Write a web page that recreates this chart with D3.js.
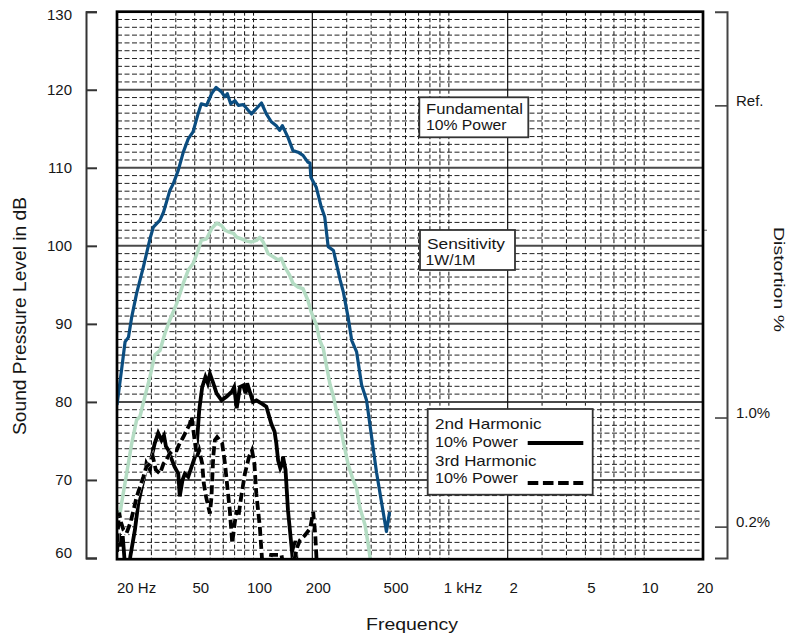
<!DOCTYPE html>
<html><head><meta charset="utf-8">
<script src="https://cdn.jsdelivr.net/npm/d3@7"></script>
<style>
body{margin:0;background:#fff}
text{font-family:"Liberation Sans",Arial,Helvetica,sans-serif;fill:#161616}
</style>
</head><body>
<svg id="chart" width="792" height="636"></svg>
<script>
// ---------- data ----------
const fundamental = [[20,79.6],[21.1,84.1],[22.0,87.7],[22.9,88.3],[23.8,90.9],[25.2,93.9],[27.3,97.3],[29.5,100.9],[30.7,102.4],[33.2,103.3],[34.6,104.3],[37.3,107.1],[38.9,108.0],[41.2,109.7],[43.7,112.0],[46.3,113.7],[49.0,114.6],[52.0,116.9],[54.0,118.2],[57.5,118.0],[61.0,119.5],[64.3,120.3],[68.6,119.7],[71.4,119.1],[73.4,119.5],[76.4,118.2],[80.3,118.6],[83.6,118.0],[88.6,118.1],[92.2,117.6],[97.6,116.9],[103.5,117.6],[109.8,118.3],[116.3,116.9],[123.3,115.9],[130.8,115.4],[136.0,114.8],[140.5,115.4],[150.1,113.9],[159.2,112.2],[169.0,112.0],[179.2,111.6],[190.0,110.7],[194.5,110.6],[196.5,108.8],[209.5,107.5],[222.1,105.0],[231.5,103.7],[241.0,99.9],[256.5,99.4],[277.7,95.6],[288.2,94.1],[305.6,90.7],[318.0,87.9],[337.1,86.4],[357.4,82.2],[379.0,80.2],[401.8,75.6],[426.1,71.0],[451.7,67.2],[479.0,63.4],[497.2,65.9]];

const sensitivity = [[20,62.9],[21.1,67.0],[22.4,70.8],[23.8,74.7],[25.2,77.7],[26.2,78.1],[27.8,80.7],[29.5,83.2],[31.2,86.0],[33.2,86.6],[35.2,88.8],[37.3,90.5],[40.4,92.6],[43.7,95.2],[46.3,96.9],[49.0,97.7],[52.0,99.4],[54.0,100.7],[57.5,100.9],[61.0,102.2],[64.7,102.9],[68.6,102.6],[71.4,102.0],[74.3,101.8],[78.9,101.6],[82.0,101.1],[86.9,100.9],[92.2,100.6],[97.6,100.5],[103.5,100.7],[107.7,101.1],[112.0,100.5],[118.7,99.0],[126.0,98.6],[133.6,98.2],[138.8,98.4],[144.4,97.3],[153.2,96.2],[159.2,95.2],[169.0,94.7],[179.2,94.5],[190.0,93.0],[197.5,91.5],[209.5,89.9],[218.3,87.9],[227.7,86.8],[236.8,84.5],[246.5,82.2],[256.5,80.7],[266.6,78.7],[277.7,77.2],[288.2,74.9],[305.6,71.9],[323.7,70.0],[337.1,68.9],[350.7,66.4],[372.6,64.2],[387.5,61.5],[398.0,59.5]];

const harmonic2nd = [[20,60.8],[20.4,63.2],[20.9,61.5],[21.4,62.8],[21.9,59.5],[23.0,58.5],[23.4,60.2],[24.7,63.6],[25.7,67.0],[26.8,69.1],[27.8,70.8],[28.3,72.1],[29.5,71.3],[30.1,73.0],[31.2,74.7],[32.5,76.0],[33.8,75.1],[34.8,75.7],[35.6,74.3],[36.7,73.8],[37.9,72.8],[39.4,71.7],[41.2,70.8],[41.9,67.9],[43.3,70.0],[44.5,70.8],[46.3,70.4],[48.2,71.7],[50.2,73.0],[51.3,74.7],[52.7,78.9],[54.6,81.9],[56.7,83.2],[58.3,82.4],[59.8,83.6],[62.2,82.4],[64.7,81.1],[68.6,80.2],[72.9,80.7],[77.4,81.3],[79.6,81.9],[82.0,79.2],[85.2,81.9],[88.6,82.1],[91.0,81.1],[92.8,82.4],[95.7,81.3],[99.3,80.0],[103.5,80.2],[109.8,79.8],[116.3,79.4],[123.3,77.2],[128.1,76.2],[130.8,74.7],[133.6,72.5],[137.1,71.5],[140.5,72.1],[141.5,73.0],[145.8,71.3],[150.1,66.1],[155.9,61.9],[159.2,59.5],[161.5,61.5],[164.0,62.2],[166.0,59.5]];

const harmonic3rd = [[20,62.0],[20.5,65.8],[21.0,64.5],[21.6,63.6],[22.4,63.2],[23.4,64.5],[24.3,66.1],[25.2,67.8],[26.2,69.1],[27.3,70.4],[28.3,71.7],[29.5,72.1],[30.5,73.0],[31.6,71.3],[33.2,70.8],[34.6,72.1],[35.6,72.5],[37.3,73.4],[38.6,73.8],[40.4,73.8],[41.9,74.7],[43.7,75.5],[45.5,76.4],[47.2,77.2],[48.2,78.1],[50.2,74.7],[51.3,73.0],[52.7,73.8],[54.6,72.1],[55.6,69.6],[57.2,67.8],[59.8,65.7],[60.9,67.8],[62.2,73.0],[63.4,75.1],[65.1,75.5],[67.1,75.1],[69.1,74.7],[71.4,72.1],[73.1,69.6],[75.6,66.1],[77.8,61.9],[80.0,64.4],[82.0,66.1],[83.7,65.3],[86.4,67.8],[90.3,70.8],[94.9,73.0],[98.2,73.8],[101.0,72.1],[103.3,68.3],[107.7,64.0],[110.8,59.5],[120,59.0],[123,60.4],[139,60.4],[142,59.0],[160,59.0],[164,60.5],[168,61.5],[173,62.3],[183,62.9],[195,63.8],[202,65.9],[207,63.0],[211,59.0]];

const dbTicks = [60,70,80,90,100,110,120,130];
const dbMajorGrid = [70,80,90,100,110,120];
const dbMinorGrid = d3.range(61,130).filter(v => v % 10 !== 0);
const hzMinorGrid = [30,40,50,60,70,80,90,100,300,400,500,600,700,800,900,1000,3000,4000,5000,6000,7000,8000,9000,10000];
const hzMajorGrid = [200,2000];
const hzTickValues = [20,50,100,200,500,1000,2000,5000,10000,20000];
const hzTickLabels = ["20 Hz","50","100","200","500","1 kHz","2","5","10","20"];
const distortionRefDb = 118;
const distortionTickValues = [100,1,0.2];
const distortionTickLabels = ["Ref.","1.0%","0.2%"];
const sensitivityRefDb = 102;

// ---------- scales ----------
const svg = d3.select("#chart");
const x = d3.scaleLog().domain([20,20000]).range([117,703]);
const y = d3.scaleLinear().domain([60,130]).range([558,11.7]);
const pctAt = db => 100*Math.pow(10,(db-distortionRefDb)/20);
const yDist = d3.scaleLog().domain([pctAt(60),pctAt(130)]).range([y(60),y(130)]);
const X0=x(20), X1=x(20000), Y0=y(130), Y1=y(60);

// ---------- grid ----------
const grid = svg.append("g");
grid.selectAll(".hmin").data(dbMinorGrid).join("line")
  .attr("x1",X0).attr("x2",X1).attr("y1",d=>y(d)).attr("y2",d=>y(d))
  .attr("stroke","#222").attr("stroke-width",1).attr("stroke-dasharray","5,2.5");
grid.selectAll(".vmin").data(hzMinorGrid).join("line")
  .attr("x1",d=>x(d)).attr("x2",d=>x(d)).attr("y1",Y0).attr("y2",Y1)
  .attr("stroke","#111").attr("stroke-width",1).attr("stroke-dasharray","4,2.5");
grid.selectAll(".hmaj").data(dbMajorGrid).join("line")
  .attr("x1",X0).attr("x2",X1).attr("y1",d=>y(d)).attr("y2",d=>y(d))
  .attr("stroke","#4a4a4a").attr("stroke-width",2);
grid.selectAll(".vmaj").data(hzMajorGrid).join("line")
  .attr("x1",d=>x(d)).attr("x2",d=>x(d)).attr("y1",Y0).attr("y2",Y1)
  .attr("stroke","#111").attr("stroke-width",1.2);
grid.append("line").attr("x1",X1).attr("x2",X1+4)
  .attr("y1",y(sensitivityRefDb)).attr("y2",y(sensitivityRefDb))
  .attr("stroke","#555").attr("stroke-width",1);

// ---------- curves ----------
svg.append("clipPath").attr("id","plotclip").append("rect")
  .attr("x",X0).attr("y",Y0).attr("width",X1-X0).attr("height",Y1-Y0);
const line = d3.line().x(d=>x(d[0])).y(d=>y(d[1]));
const curves = svg.append("g").attr("clip-path","url(#plotclip)");
curves.append("path").datum(sensitivity).attr("d",line).attr("fill","none")
  .attr("stroke","#b4dcc3").attr("stroke-width",3.5).attr("stroke-linejoin","round");
curves.append("path").datum(fundamental).attr("d",line).attr("fill","none")
  .attr("stroke","#0b4d80").attr("stroke-width",3.2).attr("stroke-linejoin","round");
curves.append("path").datum(harmonic2nd).attr("d",line).attr("fill","none")
  .attr("stroke","#000").attr("stroke-width",3.8).attr("stroke-linejoin","miter");
curves.append("path").datum(harmonic3rd).attr("d",line).attr("fill","none")
  .attr("stroke","#fff").attr("stroke-width",4.2);
curves.append("path").datum(harmonic3rd).attr("d",line).attr("fill","none")
  .attr("stroke","#000").attr("stroke-width",3.8).attr("stroke-dasharray","9,4");

// ---------- plot border ----------
svg.append("rect").attr("x",X0).attr("y",Y0).attr("width",X1-X0).attr("height",Y1-Y0+1.2)
  .attr("fill","none").attr("stroke","#000").attr("stroke-width",2.7);

// ---------- left axis ----------
const yAxis = d3.axisLeft(y).tickValues(dbTicks).tickSize(-11).tickSizeOuter(-11).tickPadding(14);
const gy = svg.append("g").attr("transform","translate(86,0)").call(yAxis);
gy.select(".domain").attr("stroke","#333").attr("stroke-width",2);
gy.selectAll(".tick line").attr("stroke","#333").attr("stroke-width",2);
gy.selectAll(".tick text").attr("font-size",15).attr("font-family",null).attr("fill","#161616")
  .attr("y",d => Math.min(Math.max(y(d), Y0+2.5), Y1-5) - y(d));

// ---------- right axis ----------
const dAxis = d3.axisRight(yDist).tickValues(distortionTickValues)
  .tickFormat((d,i)=>distortionTickLabels[i]).tickSize(-12).tickSizeOuter(-12).tickPadding(9);
const gd = svg.append("g").attr("transform","translate(727,0)").call(dAxis);
gd.select(".domain").attr("stroke","#444").attr("stroke-width",2);
gd.selectAll(".tick line").attr("stroke","#444").attr("stroke-width",1.6);
gd.selectAll(".tick text").attr("font-size",15).attr("font-family",null).attr("fill","#161616").attr("y",-4.7);

// ---------- x tick labels ----------
svg.append("g").selectAll("text").data(hzTickValues).join("text")
  .attr("x",(d,i)=> i===0 ? x(d) : (hzTickLabels[i].includes("kHz") ? x(d)-5 : x(d) + (i===hzTickValues.length-1 ? 2 : 6)))
  .attr("y",593).attr("font-size",15)
  .attr("text-anchor",(d,i)=> (i===0 || hzTickLabels[i].includes("kHz")) ? "start" : "middle")
  .text((d,i)=>hzTickLabels[i]);

// ---------- titles ----------
svg.append("text").attr("transform","translate(26,316) rotate(-90)")
  .attr("text-anchor","middle").attr("font-size",18)
  .attr("textLength",238).attr("lengthAdjust","spacingAndGlyphs")
  .text("Sound Pressure Level in dB");
svg.append("text").attr("x",412).attr("y",630).attr("text-anchor","middle").attr("font-size",17)
  .attr("textLength",92).attr("lengthAdjust","spacingAndGlyphs").text("Frequency");
svg.append("text").attr("transform","translate(774,279.5) rotate(90)")
  .attr("text-anchor","middle").attr("font-size",15)
  .attr("textLength",105).attr("lengthAdjust","spacingAndGlyphs").text("Distortion %");

// ---------- annotation boxes ----------
function box(x0,y0,w,h,lines){
  const g = svg.append("g");
  g.append("rect").attr("x",x0).attr("y",y0).attr("width",w).attr("height",h)
    .attr("fill","#fff").attr("stroke","#333").attr("stroke-width",1.8);
  lines.forEach(l=>{
    g.append("text").attr("x",l[1]).attr("y",l[2]).attr("font-size",15)
      .attr("textLength",l[3]).attr("lengthAdjust","spacingAndGlyphs").text(l[0]);
  });
  return g;
}
box(419.3,97.3,109,40,[["Fundamental",426,114,97],["10% Power",426,130,80.5]]);
box(420,230,95,40,[["Sensitivity",427,249,78],["1W/1M",425.5,265,50]]);
const lg = box(427.7,409,165,85.7,[["2nd Harmonic",435,429,106.5],["10% Power",435,446.7,83],["3rd Harmonic",435,465.7,101.5],["10% Power",435,483.3,83]]);
lg.append("line").attr("x1",527.7).attr("x2",583.3).attr("y1",443).attr("y2",443)
  .attr("stroke","#000").attr("stroke-width",4);
lg.append("line").attr("x1",527.7).attr("x2",583.3).attr("y1",483).attr("y2",483)
  .attr("stroke","#000").attr("stroke-width",4).attr("stroke-dasharray","10.6,4.6");
</script>
</body></html>
